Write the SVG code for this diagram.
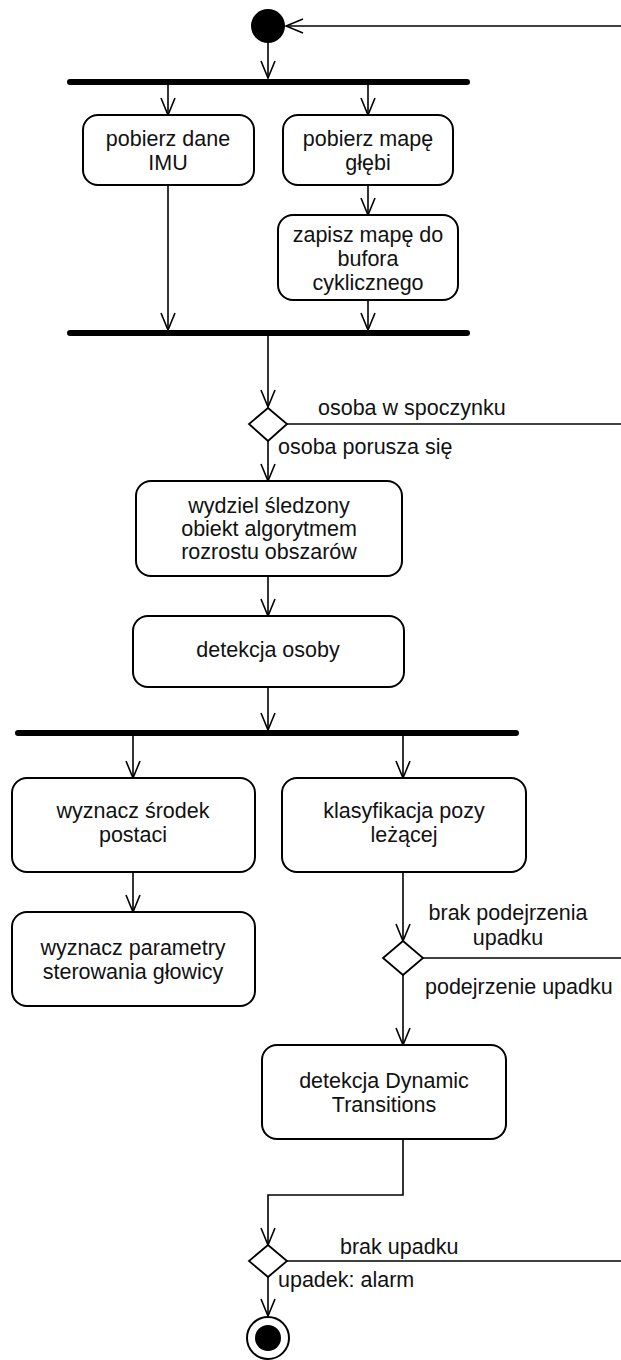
<svg xmlns="http://www.w3.org/2000/svg" width="621" height="1360" viewBox="0 0 621 1360">
<defs>
<marker id="arr" markerWidth="20" markerHeight="16" refX="18" refY="8" orient="auto" markerUnits="userSpaceOnUse">
<path d="M1,1 L18,8 L1,15" fill="none" stroke="#000" stroke-width="1.6"/>
</marker>
</defs>
<style>
.box{fill:#fff;stroke:#000;stroke-width:2}
.bar{stroke:#000;stroke-width:6;stroke-linecap:round}
.ln{fill:none;stroke:#000;stroke-width:1.6}
.ar{fill:none;stroke:#000;stroke-width:1.6;marker-end:url(#arr)}
.dia{fill:#fff;stroke:#000;stroke-width:1.8}
text{font-family:"Liberation Sans",Arial,sans-serif;font-size:21.5px;fill:#111}
.c{text-anchor:middle}
</style>
<rect width="621" height="1360" fill="#fff"/>
<g id="connectors">
<path class="ar" d="M621,26 L286,26"/>
<path class="ar" d="M268,43 L268,78"/>
<path class="ar" d="M168,85 L168,115"/>
<path class="ar" d="M368,85 L368,115"/>
<path class="ar" d="M368,185 L368,215"/>
<path class="ar" d="M168,185 L168,330"/>
<path class="ar" d="M368,300 L368,330"/>
<path class="ar" d="M268,336 L268,407"/>
<path class="ln" d="M287,424 L621,424"/>
<path class="ar" d="M268,441 L268,481"/>
<path class="ar" d="M268,576 L268,616"/>
<path class="ar" d="M268,687 L268,730"/>
<path class="ar" d="M133,736 L133,778"/>
<path class="ar" d="M403,736 L403,778"/>
<path class="ar" d="M133,872 L133,912"/>
<path class="ar" d="M403,872 L403,941"/>
<path class="ln" d="M423,958 L621,958"/>
<path class="ar" d="M403,975 L403,1045"/>
<path class="ar" d="M403,1139 L403,1195 L268,1195 L268,1245"/>
<path class="ln" d="M287,1261 L621,1261"/>
<path class="ar" d="M268,1277 L268,1316"/>
<text x="318" y="415">osoba w spoczynku</text>
<text x="278" y="454">osoba porusza się</text>
<text class="c" x="508" y="920">brak podejrzenia</text>
<text class="c" x="508" y="945">upadku</text>
<text x="425" y="994">podejrzenie upadku</text>
<text x="340" y="1254">brak upadku</text>
<text x="278" y="1287">upadek: alarm</text>
</g>
<g id="start"><circle cx="268" cy="26" r="17" fill="#000"/></g>
<g id="fork1"><line class="bar" x1="70" y1="82" x2="467" y2="82"/></g>
<g id="imu"><rect class="box" x="83" y="115" width="171" height="70" rx="15"/>
<text class="c" x="168" y="146">pobierz dane</text><text class="c" x="168" y="170">IMU</text></g>
<g id="mapa"><rect class="box" x="283" y="115" width="170" height="70" rx="15"/>
<text class="c" x="368" y="146">pobierz mapę</text><text class="c" x="368" y="170">głębi</text></g>
<g id="bufor"><rect class="box" x="278" y="215" width="180" height="85" rx="15"/>
<text class="c" x="368" y="242">zapisz mapę do</text><text class="c" x="368" y="266">bufora</text><text class="c" x="368" y="290">cyklicznego</text></g>
<g id="join1"><line class="bar" x1="70" y1="333" x2="467" y2="333"/></g>
<g id="dec1"><polygon class="dia" points="268,408 287,424 268,441 249,424"/></g>
<g id="wydziel"><rect class="box" x="136" y="481" width="266" height="95" rx="15"/>
<text class="c" x="269" y="513">wydziel śledzony</text><text class="c" x="269" y="536">obiekt algorytmem</text><text class="c" x="269" y="559">rozrostu obszarów</text></g>
<g id="detekcja"><rect class="box" x="133" y="616" width="271" height="71" rx="15"/>
<text class="c" x="268" y="657">detekcja osoby</text></g>
<g id="fork2"><line class="bar" x1="18" y1="733" x2="516" y2="733"/></g>
<g id="srodek"><rect class="box" x="12" y="778" width="243" height="94" rx="15"/>
<text class="c" x="133" y="818">wyznacz środek</text><text class="c" x="133" y="842">postaci</text></g>
<g id="klasyfikacja"><rect class="box" x="282" y="778" width="244" height="94" rx="15"/>
<text class="c" x="404" y="818">klasyfikacja pozy</text><text class="c" x="404" y="842">leżącej</text></g>
<g id="sterowanie"><rect class="box" x="12" y="912" width="243" height="94" rx="15"/>
<text class="c" x="133" y="955">wyznacz parametry</text><text class="c" x="133" y="979">sterowania głowicy</text></g>
<g id="dec2"><polygon class="dia" points="403,941 423,958 403,975 383,958"/></g>
<g id="dynamic"><rect class="box" x="262" y="1045" width="244" height="94" rx="15"/>
<text class="c" x="384" y="1088">detekcja Dynamic</text><text class="c" x="384" y="1112">Transitions</text></g>
<g id="dec3"><polygon class="dia" points="268,1245 287,1261 268,1277 249,1261"/></g>
<g id="end"><circle cx="268" cy="1338" r="21" fill="#fff" stroke="#000" stroke-width="2"/><circle cx="268" cy="1338" r="13" fill="#000"/></g>
</svg>
